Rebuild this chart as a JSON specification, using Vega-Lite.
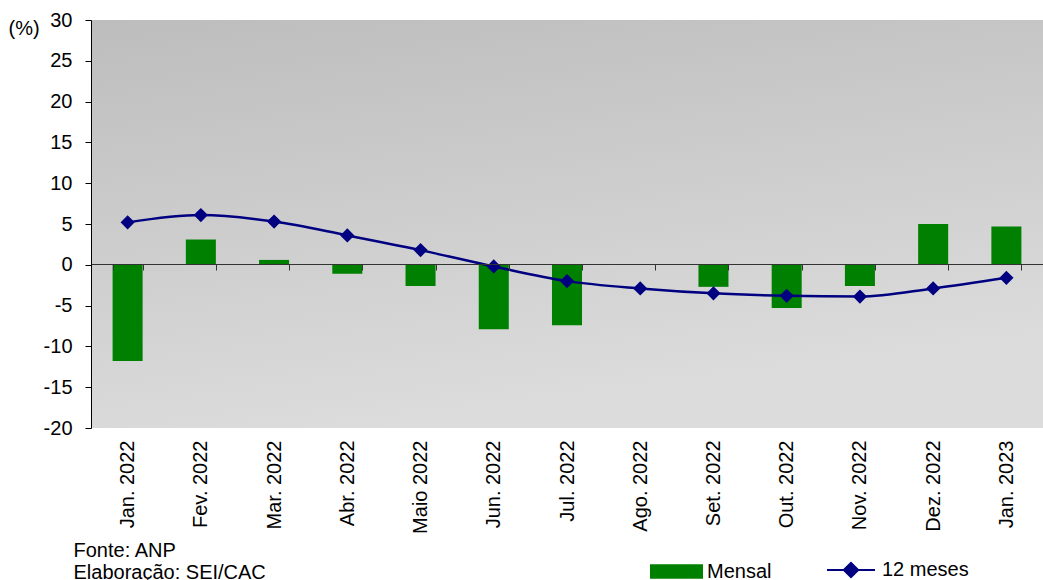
{
  "$schema": "https://vega.github.io/schema/vega-lite/v6.json",
  "autosize": "none",
  "width": 952,
  "height": 408,
  "padding": {"left": 91, "top": 20, "right": 0, "bottom": 152},
  "background": "white",
  "config": {
    "font": "Liberation Sans",
    "view": {"stroke": null},
    "axis": {"grid": false, "labelFont": "Liberation Sans", "labelColor": "black", "labelFontSize": 20, "domainColor": "black", "tickColor": "black"}
  },
  "datasets": {
    "main": [
      {"mes": "Jan. 2022", "mensal": -11.8, "doze": 5.2},
      {"mes": "Fev. 2022", "mensal": 3.1, "doze": 6.1},
      {"mes": "Mar. 2022", "mensal": 0.6, "doze": 5.3},
      {"mes": "Abr. 2022", "mensal": -1.1, "doze": 3.6},
      {"mes": "Maio 2022", "mensal": -2.6, "doze": 1.8},
      {"mes": "Jun. 2022", "mensal": -7.9, "doze": -0.2},
      {"mes": "Jul. 2022", "mensal": -7.4, "doze": -2.0},
      {"mes": "Ago. 2022", "mensal": 0.1, "doze": -2.9},
      {"mes": "Set. 2022", "mensal": -2.7, "doze": -3.5},
      {"mes": "Out. 2022", "mensal": -5.3, "doze": -3.8},
      {"mes": "Nov. 2022", "mensal": -2.6, "doze": -3.9},
      {"mes": "Dez. 2022", "mensal": 5.0, "doze": -2.9},
      {"mes": "Jan. 2023", "mensal": 4.7, "doze": -1.6}
    ],
    "bg": [{"top": 30, "bottom": -20}]
  },
  "layer": [
    {
      "data": {"name": "bg"},
      "mark": {
        "type": "rect",
        "fill": {"gradient": "linear", "x1": 0, "y1": 0, "x2": 0.3, "y2": 1,
          "stops": [{"offset": 0, "color": "#bdbdbd"}, {"offset": 1, "color": "#dcdcdc"}]}
      },
      "encoding": {
        "y": {"field": "top", "type": "quantitative", "scale": {"domain": [-20, 30], "nice": false}},
        "y2": {"field": "bottom"}
      }
    },
    {
      "data": {"name": "main"},
      "mark": {"type": "bar"},
      "encoding": {
        "x": {"field": "mes", "type": "nominal", "sort": null,
          "scale": {"paddingInner": 0.59, "paddingOuter": 0.295},
          "axis": {"orient": "bottom", "offset": -164, "zindex": 1,
            "title": ["Fonte: ANP", "Elaboração: SEI/CAC"], "titleFontSize": 20, "titleFontWeight": "normal", "titleFont": "Liberation Sans", "titleColor": "black", "titleAnchor": "start", "titleAlign": "left", "titleBaseline": "top", "titleLineHeight": 22, "titleX": -18, "titleY": 276,
            "labelAngle": -90, "labelAlign": "right", "labelBaseline": "middle", "labelPadding": 170, "labelFontSize": 20,
            "domain": true, "domainColor": "#333333", "ticks": true, "tickBand": "extent", "tickSize": 6, "tickColor": "#333333"}},
        "y": {"field": "mensal", "type": "quantitative", "scale": {"domain": [-20, 30], "nice": false},
          "axis": {"title": "(%)", "titleAngle": 0, "titleAlign": "left", "titleBaseline": "middle", "titleX": -83, "titleY": 8, "titleFontSize": 20, "titleFontWeight": "normal", "titleFont": "Liberation Sans", "titleColor": "black", "values": [-20, -15, -10, -5, 0, 5, 10, 15, 20, 25, 30], "labelExpr": "replace(datum.label, '−', '-')", "tickSize": 6, "labelPadding": 13, "domain": true, "zindex": 1}},
        "fill": {"datum": "Mensal", "type": "nominal", "scale": {"range": ["#008000"]},
          "legend": {"orient": "none", "legendX": 559, "legendY": 525, "title": null, "labelFontSize": 20, "labelFont": "Liberation Sans", "labelColor": "black", "symbolType": "M-1,-0.27L1,-0.27L1,0.27L-1,0.27Z", "symbolSize": 2809, "labelOffset": 4,
            "encode": {"symbols": {"update": {"fill": {"value": "#008000"}, "stroke": {"value": "#008000"}, "strokeWidth": {"value": 0}}}}}}
      }
    },
    {
      "data": {"name": "main"},
      "mark": {"type": "line", "interpolate": "monotone", "strokeWidth": 2.5,
        "point": {"filled": true, "shape": "diamond", "size": 130, "color": "#000080"}},
      "encoding": {
        "x": {"field": "mes", "type": "nominal", "sort": null},
        "y": {"field": "doze", "type": "quantitative", "scale": {"domain": [-20, 30], "nice": false}},
        "stroke": {"datum": "12 meses", "type": "nominal", "scale": {"range": ["#000080"]},
          "legend": {"orient": "none", "legendX": 735, "legendY": 525, "title": null, "labelFontSize": 20, "labelFont": "Liberation Sans", "labelColor": "black", "symbolType": "M-1,0L1,0M-0.3,0L0,-0.3L0.3,0L0,0.3Z", "symbolSize": 2304, "labelOffset": 6,
            "encode": {"symbols": {"update": {"fill": {"value": "#000080"}, "stroke": {"value": "#000080"}, "strokeWidth": {"value": 2}}}}}}
      }
    }
  ]
}
